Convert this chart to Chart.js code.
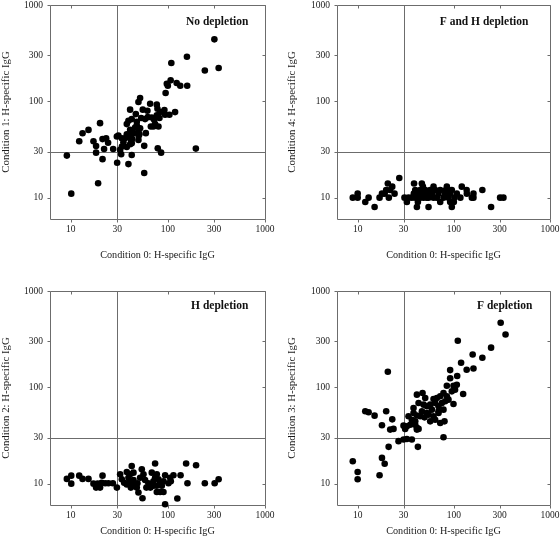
<!DOCTYPE html>
<html>
<head>
<meta charset="utf-8">
<script src="https://cdn.jsdelivr.net/npm/chart.js@4.4.1/dist/chart.umd.min.js"></script>
<style>
  html, body { margin: 0; padding: 0; background: #ffffff; }
  #wrap { position: relative; width: 560px; height: 547px; overflow: hidden; background: #fff; }
  .panel { position: absolute; }
  canvas { display: block; }
</style>
</head>
<body>
<div id="wrap">
  <div class="panel" style="left:0px;top:0px;"><canvas id="c1" width="280" height="273"></canvas></div>
  <div class="panel" style="left:286px;top:0px;"><canvas id="c2" width="274" height="273"></canvas></div>
  <div class="panel" style="left:0px;top:275px;"><canvas id="c3" width="280" height="272"></canvas></div>
  <div class="panel" style="left:286px;top:275px;"><canvas id="c4" width="274" height="272"></canvas></div>
</div>
<script>
// ---------- data ----------
const tickValues = [10, 30, 100, 300, 1000];
const tickLabels = ['10', '30', '100', '300', '1000'];
const xAxisTitle = 'Condition 0: H-specific IgG';
const yAxisTitles = ['Condition 1: H-specific IgG', 'Condition 4: H-specific IgG',
                     'Condition 2: H-specific IgG', 'Condition 3: H-specific IgG'];
const panelLabels = ['No depletion', 'F and H depletion', 'H depletion', 'F depletion'];
const cutoffX = 30;
const cutoffY = 30;
const axisMinX = 6.1;
const axisMinY = 6;
const axisMax = 1000;

// Panel "No depletion": Condition 0 vs Condition 1
const noDeplX = [9.1,10.1,12.2,13.2,15.2,17.1,18.2,18.2,19.1,20.0,21.2,21.2,22.0,23.1,24.2,27.3,30.0,29.8,30.9,32.2,
  33.0,33.5,33.6,34.8,36.2,37.7,37.7,39.2,39.2,39.2,40.8,40.8,40.8,41.8,42.4,42.4,44.2,45.9,46.7,47.8,
  49.7,49.7,49.7,50.9,51.7,51.7,53.0,55.1,57.0,57.0,58.2,59.2,61.5,65.6,68.2,70.9,72.1,73.8,76.8,76.8,
  78.0,78.6,79.9,81.8,83.1,85.1,92.0,93.5,94.7,97.4,99.8,103.6,106.7,108.4,118.5,123,134,157,158,194,
  240,301,333,42.7,49.9,47.8,62.0,66.7,39.7,37.7,42.4];
const noDeplY = [27.3,11.0,38.5,46.6,50.5,38.5,34.4,29.3,14.1,59.3,40.5,25.1,32.0,41.3,37.2,32.0,23.0,43.1,44.1,31.3,
  28.2,41.4,33.9,37.6,41.4,33.6,58.0,22.3,43.1,62.8,81.9,50.6,35.8,38.8,36.7,27.7,46.7,53.5,73.7,56.1,
  48.6,39.7,98.4,45.5,108.3,52.6,67.0,81.9,34.5,18.0,65.4,46.7,79.9,94.5,68.0,54.8,64.3,58.0,92.3,71.4,
  83.8,32.5,54.8,67.0,77.3,29.3,81.2,72.6,122,152,145,72.6,165,250,77.3,155,145,290,145,32.3,
  209,440,222,40.7,43.7,61.2,68.5,54.8,44.8,45.5,65.4];

// Panel "F and H depletion": Condition 0 vs Condition 4
const fhDeplX = [8.9,10,10,12,13,15,16.9,17.9,19.1,19.8,20.6,21.1,21.8,22.9,24.2,27.1,30.7,32.5,33.8,38.6,
  46.5,41.3,54.6,95.3,244,72.2,91.6,42.3,100,
  36.6,39.7,44.7,48.4,52.4,54.6,61.5,66.6,78.1,88,101.6,117,154,303,328,160,
  38.4,42.3,48.4,54.6,59.1,69.3,81.3,91.6,107.4,136.5,160,
  39.7,44.7,50.4,56.8,64,72.2,82.6,95.3,136,198,
  47.7,61.5,84.6,121];
const fhDeplY = [10,11,10,9,10,8,10,11,11,12,14,10,12,13,11,16,10,9,10,14,
  14,8,8,8,8,9,9,9,9,
  10,10,10,10,10,10,10,10,10,10,10,10,10,10,10,10,
  11,11,11,11,11,11,11,11,11,11,11,
  12,12,12,12,12,12,12,12,12,12,
  13,13,13,13];

// Panel "H depletion": Condition 0 vs Condition 2
const hDeplX = [9.1,10.1,10.1,12.2,13.2,15.2,17.1,18.2,18.9,20,21.2,20.8,22.6,24.4,27.1,29.8,32.2,33.5,35.4,37.7,
  40.8,44.2,39.2,40.8,44.2,37.7,42.4,45.9,42.4,47.8,49.7,53.8,56,51.7,58.2,63,65.6,70.9,54.7,73.8,
  68.2,76.8,73.8,79.9,70.9,83.1,86.5,76.8,93.6,90,76.8,83.1,90,93.6,105.4,101.3,107.1,114,135,125,
  154,195,159,240,303,333,38.5,41.5,48.5,60,66];
const hDeplY = [11.2,12.1,10,12.1,11.2,11.2,10,9.1,10,9.1,12.1,10.2,10.1,10.1,10.1,9.1,12.5,11.1,10.2,13.2,
  12.5,13.0,11.5,10.6,10.9,9.8,9.5,9.6,15.2,9.1,8.1,14.1,12.5,11.5,10.9,10.1,9.3,9.5,7.05,16.2,
  13.0,12.5,11.5,11.1,10.6,10.2,9.5,9.5,12.2,10.6,8.2,8.2,8.2,6.1,11.5,10.1,10.6,12.2,12.2,7.0,
  16.2,15.5,10.1,10.1,10.1,11.1,10.1,9.1,10.1,9.1,9.1];

// Panel "F depletion": Condition 0 vs Condition 3
const fDeplX = [8.9,10,10,12,13,15,16.9,17.9,17.9,19.1,19.8,20.6,21,21.8,22.9,23.6,26.6,30,32.5,36.6,
  30,31.2,32.5,33.8,35.2,36.6,38.1,38.1,39.7,39.7,41.3,41.3,41.3,43,42.3,41.3,43,44.7,46.6,47.3,
  48.5,49.6,50.4,52.5,52.5,54.6,56.8,56.8,59.1,61.5,61.5,64,64,66.6,69.3,69.3,69.3,72.2,72.2,75.1,
  78.1,78.1,78.1,80,81.3,84.6,84.6,88,91.6,91.6,95.3,99.2,99.2,103,107.4,108.4,110,119,125,136,
  157,160,198,244,307,345];
const fDeplY = [17.1,13.2,11.1,56.4,55,50.8,12.2,40.4,18.5,16.1,56.4,145,24.1,36.4,46.5,37,27.6,28.7,29.1,28.7,
  40,37,39.4,50,40.9,46.1,54.1,61,44.3,40.9,83.9,37.9,36.4,37,24.1,50.9,68.8,50,56.3,87.3,
  66.1,48.8,77.5,63.5,54.1,52,66.1,44.3,58.6,75.7,50,68.8,46.1,77.5,63.5,56.3,54.1,80.7,42.6,68.8,
  87.3,58.6,30.3,44.3,71.6,80.7,103.8,74.5,151,124,90.8,103.8,67.2,94.4,106.1,131,304,180,85.3,152,
  219,157,203,258,468,354];

// ---------- drawing ----------
const SERIF = "'Liberation Serif','Times New Roman',Times,serif";
Chart.defaults.font.family = SERIF;
Chart.defaults.color = '#1a1a1a';
const LINE = '#6c6c6c';

const framePlugin = {
  id: 'frame',
  beforeDatasetsDraw(chart, args, opts) {
    const { ctx, chartArea: a, scales } = chart;
    const xs = scales.x, ys = scales.y;
    const r = v => Math.round(v) + 0.5;
    const L = r(a.left), R = r(a.right), T = r(a.top), B = r(a.bottom);
    ctx.save();
    ctx.strokeStyle = LINE;
    ctx.lineWidth = 1;
    ctx.beginPath();
    ctx.moveTo(L, T); ctx.lineTo(R, T); ctx.lineTo(R, B); ctx.lineTo(L, B); ctx.closePath();
    const cx = r(xs.getPixelForValue(opts.cutX));
    const cy = r(ys.getPixelForValue(opts.cutY));
    ctx.moveTo(cx, T); ctx.lineTo(cx, B);
    ctx.moveTo(L, cy); ctx.lineTo(R, cy);
    const tl = 3;
    tickValues.forEach(v => {
      const px = r(xs.getPixelForValue(v));
      ctx.moveTo(px, B); ctx.lineTo(px, B + tl);
      ctx.moveTo(px, T); ctx.lineTo(px, T + tl);
      const py = r(ys.getPixelForValue(v));
      ctx.moveTo(L - tl, py); ctx.lineTo(L, py);
      ctx.moveTo(R - tl, py); ctx.lineTo(R, py);
    });
    ctx.stroke();
    ctx.fillStyle = '#111';
    ctx.font = 'bold 11.5px ' + SERIF;
    ctx.textAlign = 'right';
    ctx.textBaseline = 'middle';
    ctx.fillText(opts.label, a.right - opts.insetR, a.top + opts.insetT);
    ctx.restore();
  }
};

function makePanel(id, xsArr, ysArr, yTitle, label, geo) {
  const canvas = document.getElementById(id);
  const W = canvas.width, H = canvas.height;
  const points = xsArr.map((v, i) => ({ x: v, y: ysArr[i] }));
  const setTicks = scale => { scale.ticks = tickValues.map(v => ({ value: v })); };
  const labelFor = value => {
    const i = tickValues.indexOf(value);
    return i >= 0 ? tickLabels[i] : '';
  };
  new Chart(canvas, {
    type: 'scatter',
    data: {
      datasets: [{
        data: points,
        backgroundColor: '#000',
        borderColor: '#000',
        borderWidth: 0,
        pointRadius: 3.3,
        pointHoverRadius: 3.3,
        clip: false
      }]
    },
    options: {
      responsive: false,
      animation: false,
      events: [],
      layout: { padding: { left: 0, right: W - geo.R, top: geo.T, bottom: 0 } },
      plugins: {
        legend: { display: false },
        tooltip: { enabled: false },
        frame: { label: label, cutX: cutoffX, cutY: cutoffY, insetR: geo.insetR, insetT: geo.insetT }
      },
      scales: {
        x: {
          type: 'logarithmic',
          position: 'bottom',
          min: axisMinX,
          max: axisMax,
          grid: { display: false, drawTicks: false, tickLength: 0 },
          border: { display: false },
          afterBuildTicks: setTicks,
          ticks: {
            callback: labelFor,
            autoSkip: false,
            maxRotation: 0,
            padding: 5,
            color: '#1a1a1a',
            font: { size: 9.5, family: SERIF }
          },
          title: {
            display: true,
            text: xAxisTitle,
            color: '#1a1a1a',
            font: { size: 10.2, family: SERIF },
            padding: { top: 0, bottom: geo.xTitlePad }
          },
          afterFit: s => { s.height = H - geo.B; s.paddingLeft = 0; s.paddingRight = 0; }
        },
        y: {
          type: 'logarithmic',
          position: 'left',
          min: axisMinY,
          max: axisMax,
          grid: { display: false, drawTicks: false, tickLength: 0 },
          border: { display: false },
          afterBuildTicks: setTicks,
          ticks: {
            callback: labelFor,
            autoSkip: false,
            padding: 7,
            color: '#1a1a1a',
            font: { size: 9.5, family: SERIF }
          },
          title: {
            display: true,
            text: yTitle,
            color: '#1a1a1a',
            font: { size: 10.8, family: SERIF },
            padding: { top: 0, bottom: 0 }
          },
          afterFit: s => { s.width = geo.L; s.paddingTop = 0; s.paddingBottom = 0; }
        }
      }
    },
    plugins: [framePlugin]
  });
}

makePanel('c1', noDeplX, noDeplY, yAxisTitles[0], panelLabels[0],
  { L: 50, R: 265, T: 5, B: 219, xTitlePad: 12, insetR: 16.7, insetT: 16.7 });
makePanel('c2', fhDeplX, fhDeplY, yAxisTitles[1], panelLabels[1],
  { L: 51, R: 264, T: 5, B: 219, xTitlePad: 12, insetR: 21.7, insetT: 16.7 });
makePanel('c3', hDeplX, hDeplY, yAxisTitles[2], panelLabels[2],
  { L: 50, R: 265, T: 16, B: 230, xTitlePad: 9.2, insetR: 16.7, insetT: 14.7 });
makePanel('c4', fDeplX, fDeplY, yAxisTitles[3], panelLabels[3],
  { L: 51, R: 264, T: 16, B: 230, xTitlePad: 9.2, insetR: 17.7, insetT: 14.7 });
</script>
</body>
</html>
